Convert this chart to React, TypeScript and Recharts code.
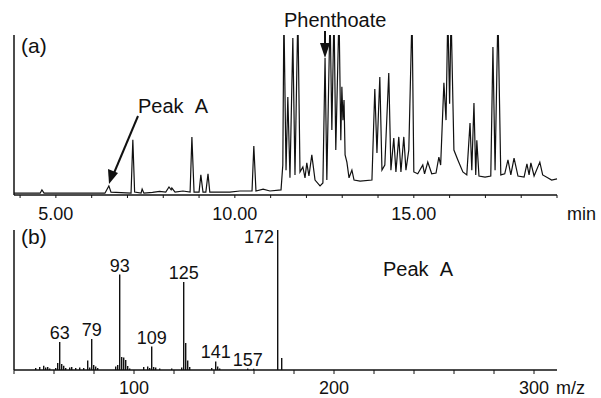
import React from 'react';
import { LineChart, Line, XAxis, YAxis, BarChart, Bar, LabelList } from 'recharts';

// (a) total ion chromatogram, [retention time (min), abundance]
const ticEarly: [number, number][] = [
  [3.83, 0.05], [4.56, 0.05], [4.61, 0.14], [4.67, 0.05], [6.37, 0.05], [6.48, 0.25], [6.54, 0.08],
  [7.1, 0.05], [7.15, 1.51], [7.2, 0.08], [7.38, 0.05], [7.41, 0.16], [7.46, 0.05], [7.7, 0.07],
  [7.9, 0.1], [8.07, 0.08], [8.16, 0.22], [8.22, 0.14], [8.24, 0.19], [8.33, 0.08], [8.55, 0.11],
  [8.75, 0.08], [8.8, 1.59], [8.86, 0.08], [9.0, 0.08], [9.05, 0.55], [9.11, 0.08], [9.19, 0.08],
  [9.25, 0.58], [9.3, 0.08], [9.86, 0.08], [10.14, 0.11], [10.48, 0.11], [10.53, 1.34], [10.59, 0.11],
  [10.79, 0.16], [10.98, 0.11], [11.29, 0.14],
];

const ticCluster: [number, number][] = [
  [11.34, 0.82], [11.37, 5], [11.43, 0.68], [11.48, 2.68], [11.54, 0.47], [11.62, 4.3], [11.68, 0.55],
  [11.76, 5], [11.82, 0.63], [11.9, 0.77], [11.96, 0.47], [12.01, 0.88], [12.07, 0.52], [12.15, 1.1],
  [12.24, 0.41], [12.38, 0.25], [12.46, 0.33], [12.52, 3.75], [12.57, 0.41], [12.66, 5], [12.71, 1.78],
  [12.77, 5], [12.82, 1.23], [12.91, 5], [12.96, 1.5], [12.99, 2.96], [13.02, 2.05], [13.05, 2.6],
  [13.08, 1.1], [13.13, 0.9], [13.19, 0.47], [13.27, 0.68], [13.33, 0.41],
];

const ticLate: [number, number][] = [
  [13.5, 0.38], [13.83, 0.41], [13.91, 2.9], [13.97, 1.15], [14.05, 3.23], [14.11, 0.68], [14.19, 0.82],
  [14.3, 3.34], [14.36, 0.68], [14.44, 1.56], [14.5, 0.63], [14.58, 1.59], [14.64, 0.63], [14.72, 1.59],
  [14.78, 0.68], [14.86, 1.23], [14.95, 5], [15.0, 0.63], [15.11, 0.58], [15.25, 0.82], [15.3, 0.58],
  [15.39, 0.9], [15.5, 0.58], [15.62, 0.6], [15.7, 1.04], [15.75, 0.82], [15.84, 3.07], [15.9, 2.05],
  [15.95, 5], [16.0, 2.5], [16.04, 5], [16.12, 1.23], [16.23, 0.96], [16.37, 0.63], [16.48, 0.55],
  [16.57, 1.97], [16.62, 0.68], [16.68, 2.52], [16.73, 0.55], [16.76, 1.5], [16.82, 0.52], [16.99, 0.49],
  [17.15, 0.52], [17.21, 4.05], [17.27, 0.68], [17.35, 5], [17.43, 0.55], [17.54, 0.58], [17.63, 0.96],
  [17.71, 0.55], [17.8, 1.01], [17.91, 0.52], [18.08, 0.49], [18.16, 0.85], [18.22, 0.55], [18.27, 0.88],
  [18.36, 0.52], [18.52, 0.9], [18.6, 0.55], [18.74, 0.47], [18.85, 0.41], [19.0, 0.44],
];

const timeTicks = [4, 5, 6, 7, 8, 9, 10, 11, 12, 13, 14, 15, 16, 17, 18, 19];
const timeLabels = [5, 10, 15];

// (b) mass spectrum of Peak A
const spectrumMz = [
  51, 53, 55, 56, 57, 58, 61, 62, 63, 64, 65, 66, 68, 69, 71, 73, 75, 77, 78, 79, 80, 81, 82,
  91, 92, 93, 94, 95, 96, 97, 98, 105, 107, 108, 109, 110, 111, 113, 119, 124, 125, 126, 127, 128,
  139, 141, 142, 143, 157, 160, 172, 174,
];
const spectrumAbundance = [
  100, 150, 215, 120, 150, 80, 100, 350, 1400, 300, 215, 100, 120, 150, 100, 130, 100, 470, 120, 1550, 250, 170, 100,
  170, 250, 4770, 650, 620, 500, 200, 80, 150, 170, 100, 1170, 150, 130, 80, 80, 120, 4400, 1350, 470, 150,
  100, 430, 170, 80, 70, 60, 7000, 600,
];
const labelledMz = [63, 79, 93, 109, 125, 141, 157, 172];
const mzTicks = [40, 60, 80, 100, 120, 140, 160, 180, 200, 220, 240, 260, 280, 300];
const mzLabels = [100, 200, 300];

const ticData = [...ticEarly, ...ticCluster, ...ticLate].map(([t, v]) => ({ t, v }));
const spectrumData = spectrumMz.map((mz, i) => ({ mz, abundance: spectrumAbundance[i] }));

const FONT = '"Liberation Sans", Arial, sans-serif';
const INK = '#111';

const TimeTick = (props: any) => {
  const { x, y, payload } = props;
  const v = payload.value;
  if (v === 19) {
    return <text x={x + 10} y={y} dy="0.71em" fontSize={18} fontFamily={FONT} fill={INK}>min</text>;
  }
  if (!timeLabels.includes(v)) return <g />;
  return (
    <text x={x} y={y} dy="0.71em" textAnchor="middle" fontSize={18} fontFamily={FONT} fill={INK}>
      {v.toFixed(2)}
    </text>
  );
};

const MzTick = (props: any) => {
  const { x, y, payload } = props;
  const v = payload.value;
  if (!mzLabels.includes(v)) return <g />;
  return (
    <g>
      <text x={x} y={y} dy="0.71em" textAnchor="middle" fontSize={18} fontFamily={FONT} fill={INK}>{v}</text>
      {v === 300 && (
        <text x={x + 22} y={y} dy="0.71em" fontSize={18} fontFamily={FONT} fill={INK}>m/z</text>
      )}
    </g>
  );
};

const PeakLabel = (props: any) => {
  const { x, y, width, value } = props;
  if (!labelledMz.includes(value)) return null;
  if (value === 172) {
    return (
      <text x={x - 3} y={y + 13} textAnchor="end" fontSize={18} fontFamily={FONT} fill={INK}>{value}</text>
    );
  }
  return (
    <text x={x + width / 2} y={y - 3} textAnchor="middle" fontSize={18} fontFamily={FONT} fill={INK}>{value}</text>
  );
};

const axisLine = { stroke: INK, strokeWidth: 1.5 };
const tickLine = { stroke: INK, strokeWidth: 1 };

export default function App() {
  return (
    <div style={{ position: 'absolute', left: 0, top: 0, width: 601, height: 398, background: '#fff', fontFamily: FONT }}>
      <div style={{ position: 'absolute', left: 0, top: 0 }}>
        <LineChart width={601} height={225} data={ticData} margin={{ top: 35, right: 44, left: 14, bottom: 0 }}>
          <XAxis
            dataKey="t"
            type="number"
            domain={[3.83, 19]}
            ticks={timeTicks}
            tick={<TimeTick />}
            height={30}
            tickSize={3}
            tickMargin={9}
            axisLine={axisLine}
            tickLine={tickLine}
            interval={0}
          />
          <YAxis
            type="number"
            domain={[0, 4.38]}
            ticks={[1, 2, 3, 4]}
            allowDataOverflow
            mirror
            width={1}
            tick={false}
            tickSize={3}
            axisLine={axisLine}
            tickLine={tickLine}
          />
          <Line type="linear" dataKey="v" stroke={INK} strokeWidth={1.2} dot={false} isAnimationActive={false} />
        </LineChart>
      </div>
      <div style={{ position: 'absolute', left: 0, top: 199 }}>
        <BarChart width={601} height={198} data={spectrumData} margin={{ top: 31, right: 44, left: 14, bottom: 0 }}>
          <XAxis
            dataKey="mz"
            type="number"
            domain={[40, 311.5]}
            ticks={mzTicks}
            tick={<MzTick />}
            height={27}
            tickSize={4}
            tickMargin={7}
            axisLine={axisLine}
            tickLine={tickLine}
            interval={0}
          />
          <YAxis
            type="number"
            domain={[0, 7000]}
            ticks={[3000, 6000]}
            mirror
            width={1}
            tick={false}
            tickSize={3}
            axisLine={axisLine}
            tickLine={tickLine}
          />
          <Bar dataKey="abundance" fill={INK} barSize={1.4} isAnimationActive={false}>
            <LabelList dataKey="mz" content={<PeakLabel />} />
          </Bar>
        </BarChart>
      </div>
      <svg width={601} height={398} style={{ position: 'absolute', left: 0, top: 0, pointerEvents: 'none' }}>
        <g fontFamily={FONT} fill={INK}>
          <text x={21} y={53} fontSize={21}>(a)</text>
          <text x={21} y={244} fontSize={21}>(b)</text>
          <text x={138} y={113} fontSize={20}>{'Peak\u00a0\u00a0A'}</text>
          <text x={284} y={27} fontSize={20}>Phenthoate</text>
          <text x={383} y={276} fontSize={20}>{'Peak\u00a0\u00a0A'}</text>
        </g>
        <line x1={138} y1={116} x2={114} y2={173} stroke={INK} strokeWidth={2} />
        <polygon points="109,184 108,169 118,173" fill={INK} />
        <line x1={325} y1={31} x2={325} y2={46} stroke={INK} strokeWidth={2} />
        <polygon points="325,58 320,43 330,43" fill={INK} />
      </svg>
    </div>
  );
}
